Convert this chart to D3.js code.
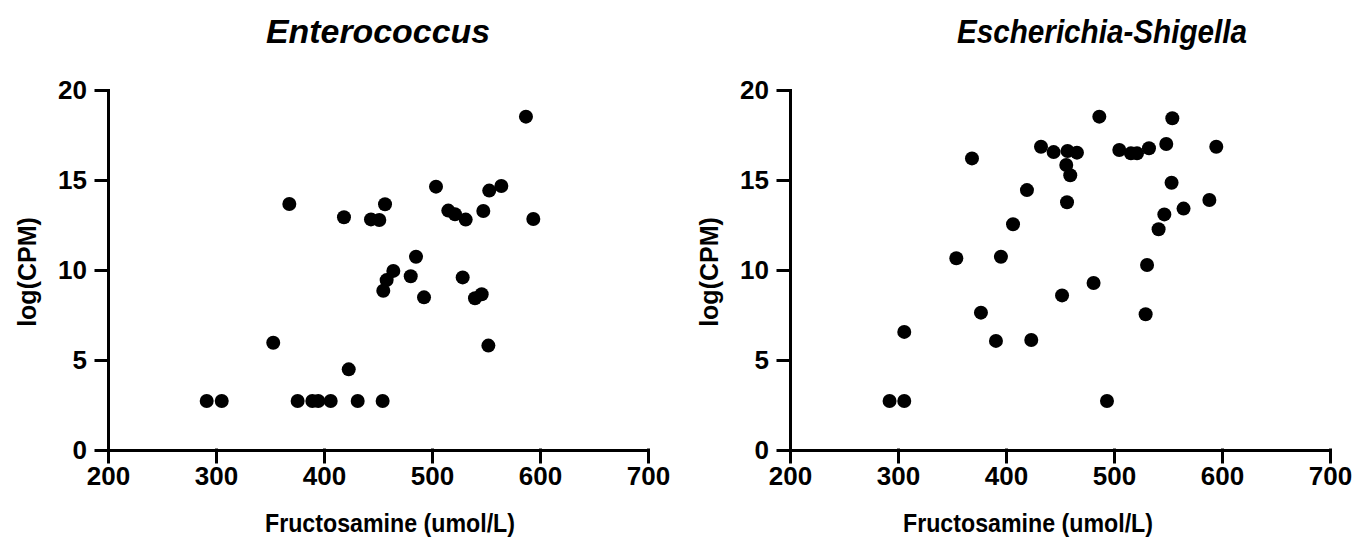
<!DOCTYPE html>
<html><head><meta charset="utf-8">
<script src="https://cdn.jsdelivr.net/npm/d3@7"></script>
<style>body{margin:0;background:#fff;} svg text{font-family:"Liberation Sans",Arial,sans-serif;font-weight:bold;fill:#000;}</style>
</head><body><svg id="c" width="1368" height="544"></svg>
<script>
const xTicks = [200, 300, 400, 500, 600, 700];
const yTicks = [0, 5, 10, 15, 20];
const titles = ["Enterococcus", "Escherichia-Shigella"];
const xLabel = "Fructosamine (umol/L)";
const yLabel = "log(CPM)";

const enteroX = [291.4,305.3,353,367.9,375.6,389.2,394.7,406.2,418.5,422.9,431.2,443.5,451.2,454.3,454.9,456.5,458,464.2,480.3,485.2,492.6,503.7,515.1,521.3,528.4,531.2,539.8,546,547.5,552.2,553,564.2,587,593.8];
const enteroY = [2.72,2.72,5.96,13.67,2.72,2.72,2.72,2.72,12.93,4.48,2.72,12.81,12.78,2.72,8.85,13.65,9.44,9.95,9.65,10.74,8.48,14.63,13.3,13.1,9.59,12.8,8.43,8.65,13.28,5.8,14.41,14.67,18.52,12.83];

const escherX = [292.2,305.8,305.8,354,368.5,376.8,390.7,395.3,406.5,419.4,423.4,432.4,444.1,451.9,455.8,456.5,457,459.5,465.7,481.1,486.4,493.5,504.9,515.7,521.3,529.3,530.6,532.4,541.3,546.6,548.4,553.3,554,564.4,588.3,594.7];
const escherY = [2.72,2.72,6.56,10.65,16.2,7.63,6.06,10.74,12.54,14.44,6.11,16.85,16.55,8.59,15.83,13.76,16.61,15.26,16.52,9.28,18.52,2.72,16.67,16.48,16.48,7.54,10.28,16.76,12.26,13.09,17.0,14.85,18.43,13.41,13.89,16.85];

const svg = d3.select("#c");
const panels = [
  {x0:108, x1:648, title:titles[0], xs:enteroX, ys:enteroY, titleX:378, titleW:224, xLabX:390, yLabX:27},
  {x0:790, x1:1330, title:titles[1], xs:escherX, ys:escherY, titleX:1102, titleW:290, xLabX:1028, yLabX:709}
];
const yTop = 90, yBot = 450;

panels.forEach(p => {
  const x = d3.scaleLinear().domain([200,700]).range([p.x0,p.x1]);
  const y = d3.scaleLinear().domain([0,20]).range([yBot,yTop]);
  const g = svg.append("g");

  const xa = g.append("g").attr("transform",`translate(0,${yBot})`)
    .call(d3.axisBottom(x).tickValues(xTicks).tickSize(12).tickSizeOuter(0).tickPadding(5));
  const ya = g.append("g").attr("transform",`translate(${p.x0},0)`)
    .call(d3.axisLeft(y).tickValues(yTicks).tickSize(12).tickSizeOuter(0).tickPadding(9));
  [xa,ya].forEach(a=>{
    a.selectAll("path,line").attr("stroke","#000").attr("stroke-width",3).attr("stroke-linecap","square");
    a.selectAll("text").style("font-size","26px").style("font-weight","bold").attr("fill","#000");
  });

  g.selectAll("circle").data(p.xs.map((v,i)=>[v,p.ys[i]])).join("circle")
    .attr("cx",d=>x(d[0])).attr("cy",d=>y(d[1])).attr("r",7).attr("fill","#000");

  g.append("text").attr("x",p.titleX).attr("y",43).attr("text-anchor","middle")
    .attr("textLength",p.titleW).attr("lengthAdjust","spacingAndGlyphs")
    .style("font-size","33px").style("font-style","italic").text(p.title);
  g.append("text").attr("x",p.xLabX).attr("y",532).attr("text-anchor","middle")
    .attr("textLength",250).attr("lengthAdjust","spacingAndGlyphs")
    .style("font-size","25px").text(xLabel);
  g.append("text").attr("transform",`translate(${p.yLabX+9},272) rotate(-90)`).attr("text-anchor","middle")
    .style("font-size","25px").text(yLabel);
});
</script></body></html>
